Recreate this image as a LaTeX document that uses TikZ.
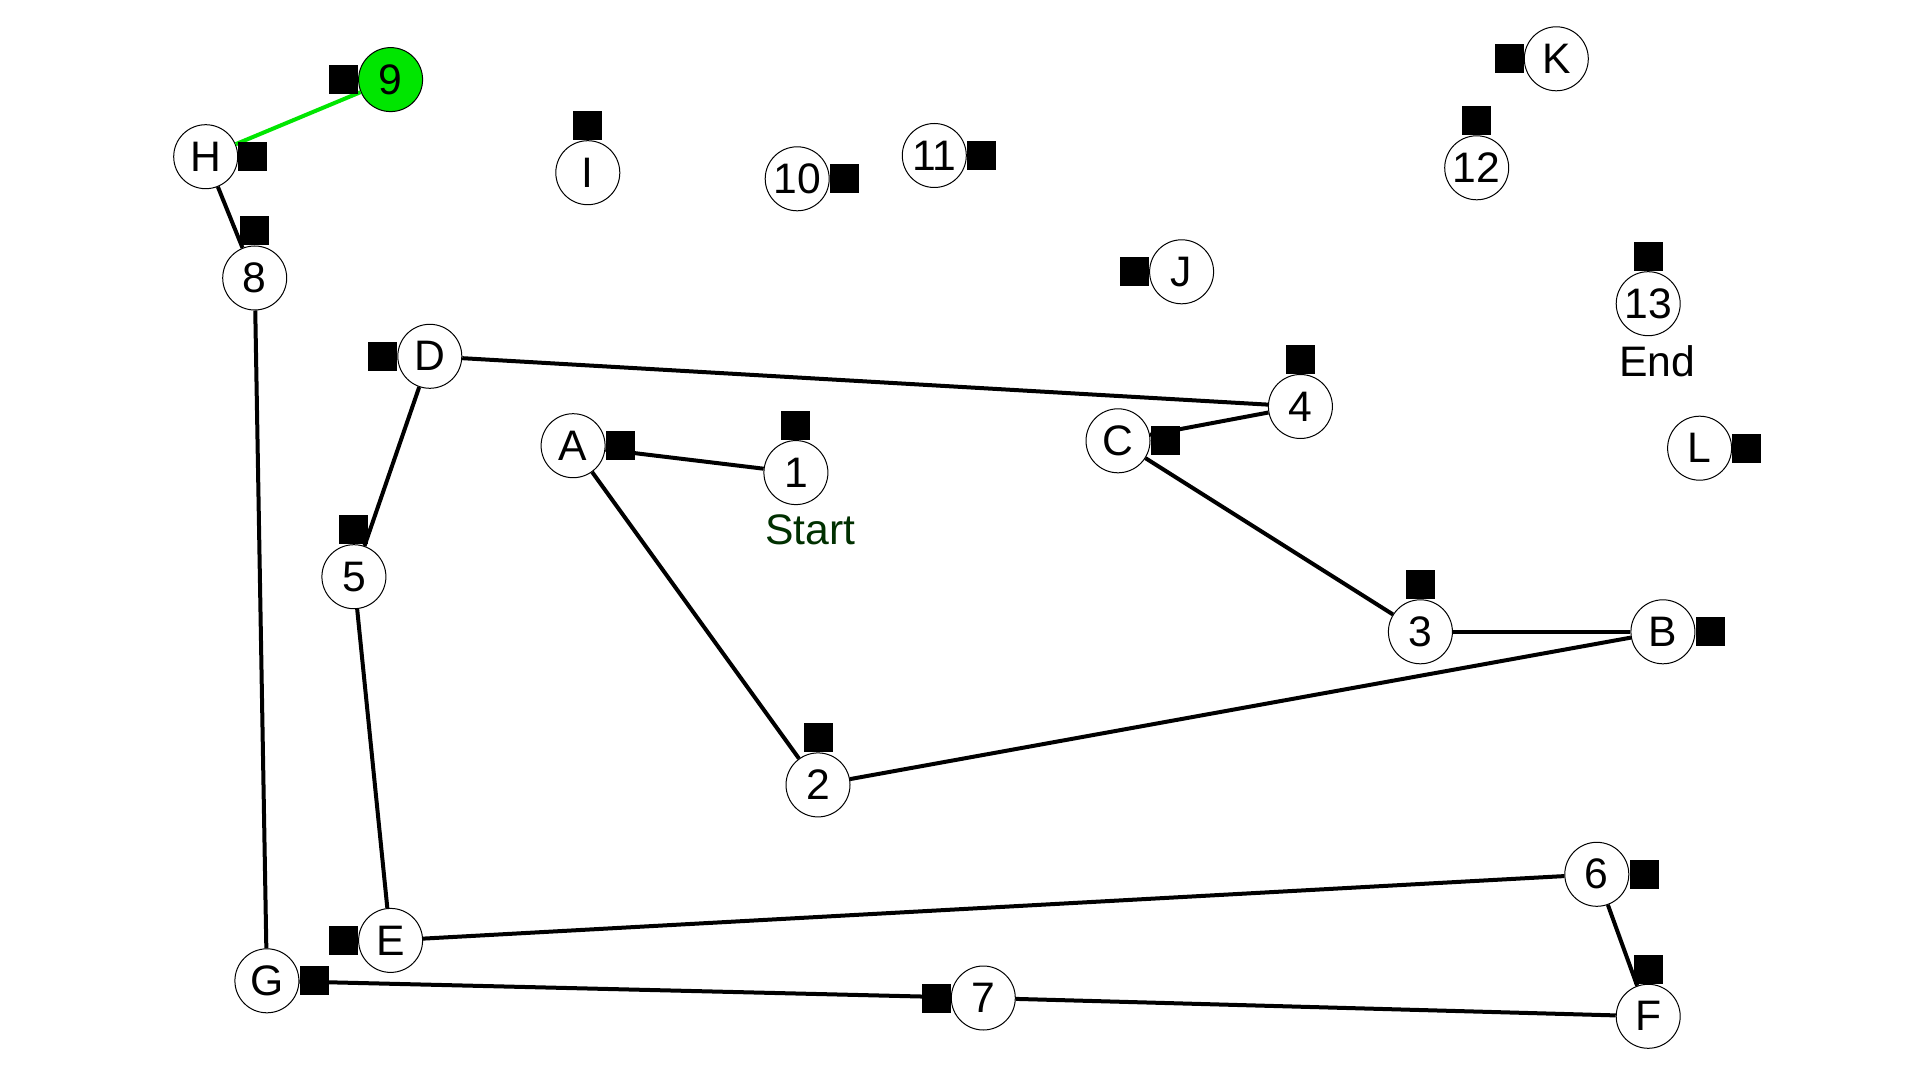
\documentclass[tikz,border=0pt]{standalone}
\usepackage{fontspec}
\setmainfont{Liberation Sans}
\definecolor{startgreen}{RGB}{0,48,0}
\definecolor{pathgreen}{RGB}{0,230,0}
\begin{document}
\begin{tikzpicture}[x=0.75pt,y=-0.75pt,
  vtx/.style={circle,draw=black,line width=0.75pt,fill=white,minimum size=48pt,inner sep=0pt,
    font=\fontsize{32}{36}\selectfont},
  tag/.style={fill=black,draw=none,minimum size=21.75pt,inner sep=0pt},
  edge/.style={draw=black,line width=3pt},
  lbl/.style={font=\fontsize{32}{36}\selectfont,inner sep=0pt}]
\useasboundingbox (0,0) rectangle (1920,1080);
\fill[white] (0,0) rectangle (1920,1080);

% vertices
\node[vtx,fill=pathgreen] (n9) at (390.6,79.6) {9};
\node[vtx] (H) at (205.7,156.7) {H};
\node[vtx] (I) at (587.8,172.7) {I};
\node[vtx] (n10) at (797.2,178.8) {10};
\node[vtx] (n11) at (934.3,155.5) {11};
\node[vtx] (K) at (1556.3,58.8) {K};
\node[vtx] (n12) at (1476.7,167.8) {12};
\node[vtx] (J) at (1181.6,271.8) {J};
\node[vtx] (n8) at (254.7,278.0) {8};
\node[vtx] (n13) at (1648.2,303.7) {13};
\node[vtx] (D) at (429.8,356.3) {D};
\node[vtx] (n4) at (1300.4,406.5) {4};
\node[vtx] (A) at (573.1,445.7) {A};
\node[vtx] (n1) at (795.9,472.6) {1};
\node[vtx] (C) at (1118.0,440.8) {C};
\node[vtx] (L) at (1699.6,448.2) {L};
\node[vtx] (n5) at (353.9,576.7) {5};
\node[vtx] (n3) at (1420.4,631.8) {3};
\node[vtx] (B) at (1662.9,631.8) {B};
\node[vtx] (n2) at (818.0,784.9) {2};
\node[vtx] (n6) at (1596.8,874.3) {6};
\node[vtx] (E) at (390.6,940.4) {E};
\node[vtx] (G) at (266.9,980.8) {G};
\node[vtx] (n7) at (983.3,998.0) {7};
\node[vtx] (F) at (1648.2,1016.3) {F};

% labels
\node[lbl,text=startgreen] (start) at (810.5,530) {Start};
\node[lbl] (end) at (1657,361) {End};

% route
\draw[edge] (n1) -- (A);
\draw[edge] (A) -- (n2);
\draw[edge] (n2) -- (B);
\draw[edge] (B) -- (n3);
\draw[edge] (n3) -- (C);
\draw[edge] (C) -- (n4);
\draw[edge] (n4) -- (D);
\draw[edge] (D) -- (n5);
\draw[edge] (n5) -- (E);
\draw[edge] (E) -- (n6);
\draw[edge] (n6) -- (F);
\draw[edge] (F) -- (n7);
\draw[edge] (n7) -- (G);
\draw[edge] (G) -- (n8);
\draw[edge] (n8) -- (H);
\draw[edge,draw=pathgreen] (H) -- (n9);

% square markers
\node[tag,anchor=east] (s9) at (n9.west) {};
\node[tag,anchor=west] (sH) at (H.east) {};
\node[tag,anchor=south] (sI) at (I.north) {};
\node[tag,anchor=west] (s10) at (n10.east) {};
\node[tag,anchor=west] (s11) at (n11.east) {};
\node[tag,anchor=east] (sK) at (K.west) {};
\node[tag,anchor=south] (s12) at (n12.north) {};
\node[tag,anchor=east] (sJ) at (J.west) {};
\node[tag,anchor=south] (s8) at (n8.north) {};
\node[tag,anchor=south] (s13) at (n13.north) {};
\node[tag,anchor=east] (sD) at (D.west) {};
\node[tag,anchor=south] (s4) at (n4.north) {};
\node[tag,anchor=west] (sA) at (A.east) {};
\node[tag,anchor=south] (s1) at (n1.north) {};
\node[tag,anchor=west] (sC) at (C.east) {};
\node[tag,anchor=west] (sL) at (L.east) {};
\node[tag,anchor=south] (s5) at (n5.north) {};
\node[tag,anchor=south] (s3) at (n3.north) {};
\node[tag,anchor=west] (sB) at (B.east) {};
\node[tag,anchor=south] (s2) at (n2.north) {};
\node[tag,anchor=west] (s6) at (n6.east) {};
\node[tag,anchor=east] (sE) at (E.west) {};
\node[tag,anchor=west] (sG) at (G.east) {};
\node[tag,anchor=east] (s7) at (n7.west) {};
\node[tag,anchor=south] (sF) at (F.north) {};
\end{tikzpicture}
\end{document}
